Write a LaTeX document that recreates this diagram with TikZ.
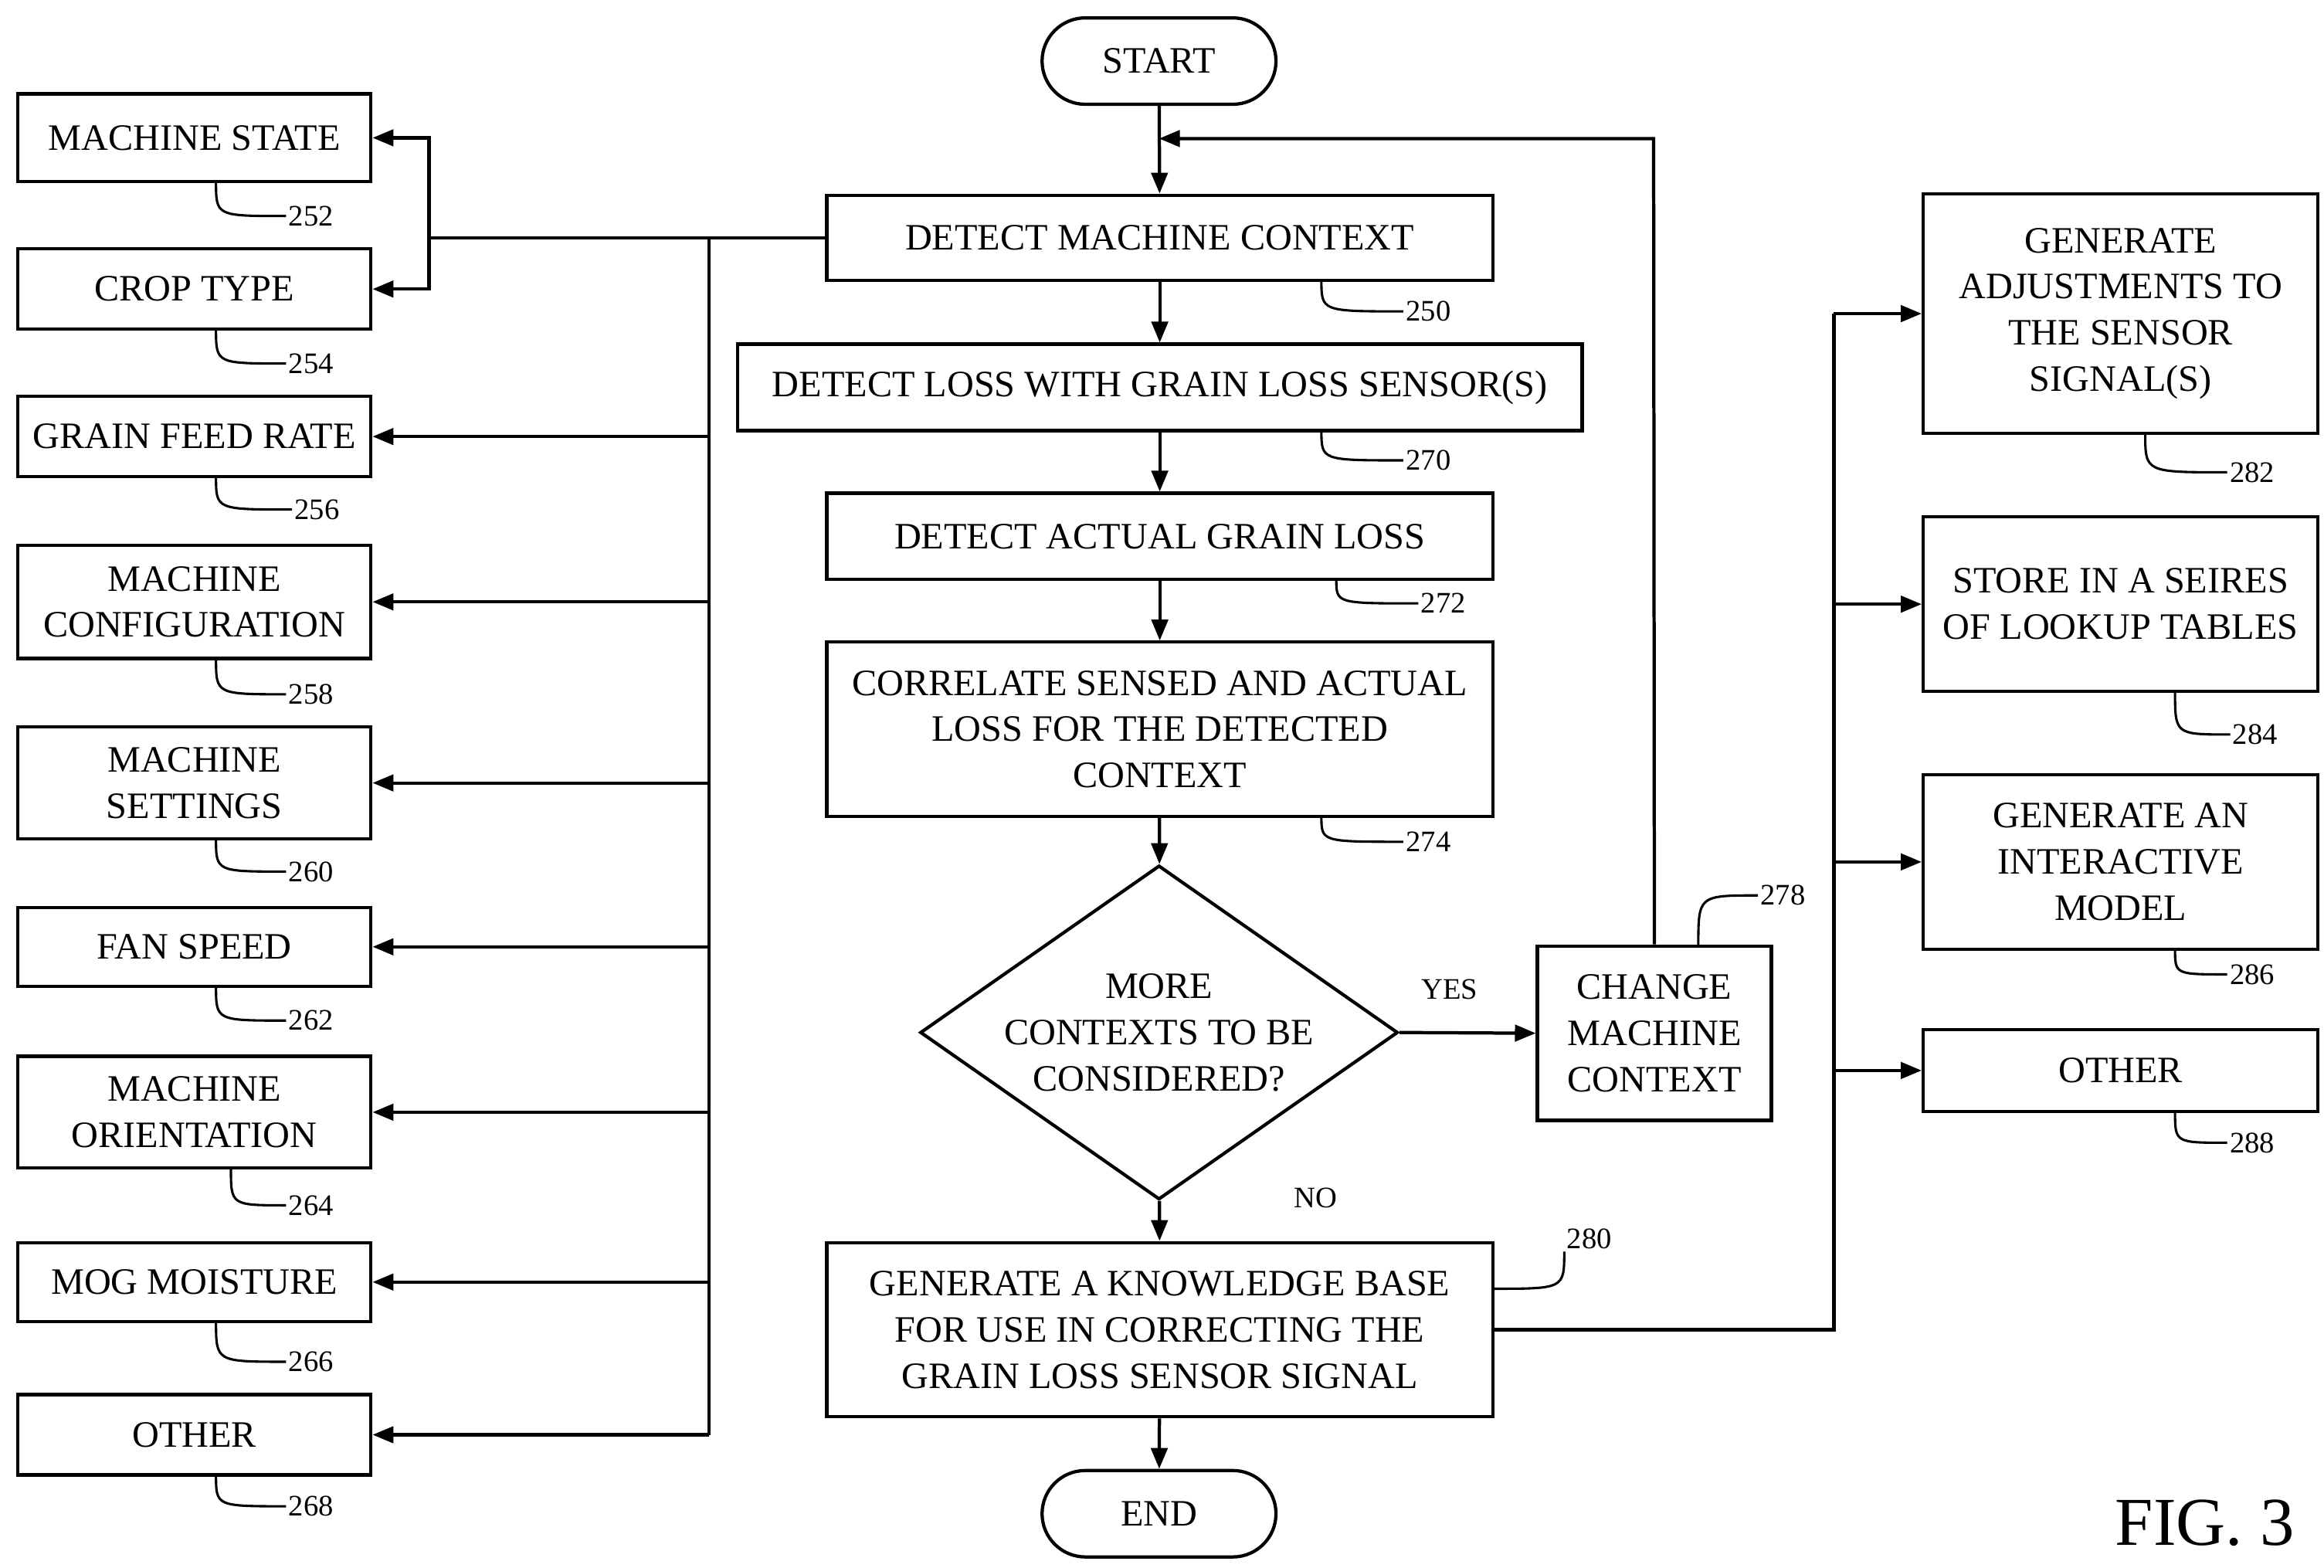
\documentclass[tikz,border=0pt]{standalone}
\usepackage{fontspec}
\setmainfont{Liberation Serif}
\usetikzlibrary{shapes.geometric,arrows.meta}
\begin{document}
\begin{tikzpicture}[x=1pt,y=-1pt,
  lw/.style={line width=2.2pt},
  box/.style={draw,lw,rectangle,inner sep=0pt,align=center,font=\fontsize{25}{31}\selectfont},
  term/.style={draw,lw,rounded rectangle,minimum width=157pt,minimum height=58pt,font=\fontsize{25}{31}\selectfont},
  arr/.style={lw,-{Triangle[length=14pt,width=11pt]}},
  num/.style={font=\fontsize{20}{24}\selectfont,anchor=west,inner sep=1pt},
  txt/.style={font=\fontsize{20}{24}\selectfont}]
\useasboundingbox (0,0) rectangle (1560,1052);
\tikzset{rounded rectangle/.style={rectangle,rounded corners=29pt}}
% left boxes
\newcommand{\lbox}[4]{\node[box,minimum width=237pt,minimum height=#3pt] (#1) at (130.5,#2) {#4};}
\lbox{l252}{92.5}{59}{MACHINE STATE}
\lbox{l254}{194}{54}{CROP TYPE}
\lbox{l256}{293}{54}{GRAIN FEED RATE}
\lbox{l258}{404}{76}{MACHINE\\CONFIGURATION}
\lbox{l260}{525.5}{75}{MACHINE\\SETTINGS}
\lbox{l262}{635.5}{53}{FAN SPEED}
\lbox{l264}{746.5}{75}{MACHINE\\ORIENTATION}
\lbox{l266}{860.5}{53}{MOG MOISTURE}
\lbox{l268}{963}{54}{OTHER}
% center
\node[term] (start) at (778,41) {START};
\node[box,minimum width=447pt,minimum height=57pt] (c250) at (778.5,159.5) {DETECT MACHINE CONTEXT};
\node[box,minimum width=567pt,minimum height=58pt] (c270) at (778.5,260) {DETECT LOSS WITH GRAIN LOSS SENSOR(S)};
\node[box,minimum width=447pt,minimum height=58pt] (c272) at (778.5,360) {DETECT ACTUAL GRAIN LOSS};
\node[box,minimum width=447pt,minimum height=117pt] (c274) at (778.5,489.5) {CORRELATE SENSED AND ACTUAL\\LOSS FOR THE DETECTED\\CONTEXT};
\node[draw,lw,diamond,aspect=1.43,minimum width=294pt,minimum height=206pt,inner sep=0pt,align=center,font=\fontsize{25}{31}\selectfont] (d) at (778,693) {MORE\\CONTEXTS TO BE\\CONSIDERED?};
\node[box,minimum width=157pt,minimum height=117pt] (c278) at (1110.5,693.5) {CHANGE\\MACHINE\\CONTEXT};
\node[box,minimum width=447pt,minimum height=117pt] (c280) at (778.5,892.5) {GENERATE A KNOWLEDGE BASE\\FOR USE IN CORRECTING THE\\GRAIN LOSS SENSOR SIGNAL};
\node[term] (end) at (778,1016) {END};
% right
\newcommand{\rbox}[4]{\node[box,minimum width=265pt,minimum height=#3pt] (#1) at (1423.5,#2) {#4};}
\rbox{r282}{210.5}{161}{GENERATE\\ADJUSTMENTS TO\\THE SENSOR\\SIGNAL(S)}
\rbox{r284}{405.5}{117}{STORE IN A SEIRES\\OF LOOKUP TABLES}
\rbox{r286}{578.5}{117}{GENERATE AN\\INTERACTIVE\\MODEL}
\rbox{r288}{718.5}{55}{OTHER}
% center flow
\draw[arr] (start) -- (c250);
\draw[arr] (c250) -- (c270);
\draw[arr] (c270) -- (c272);
\draw[arr] (c272) -- (c274);
\draw[arr] (c274) -- (d);
\draw[arr] (d) -- (c280);
\draw[arr] (c280) -- (end);
\draw[arr] (d.east) -- (c278.west);
\coordinate (loopA) at (1110,93);
\coordinate (loopB) at (778,93);
\draw[arr] (c278.north) -- (loopA) -- (loopB);
\node[txt] (yes) at (973,664) {YES};
\node[txt] (no) at (883,804) {NO};
% left bus
\coordinate (b160) at (476,159.5);
\coordinate (s) at (288,159.5);
\draw[lw] (c250.west) -- (s);
\draw[lw] (b160) -- (476,963);
\draw[arr] (288,159.5) |- (l252.east);
\draw[arr] (288,159.5) |- (l254.east);
\foreach \n in {l256,l258,l260,l262,l264,l266,l268}{
  \draw[arr] (476,0 |- \n.east) -- (\n.east);}
% right bus
\draw[lw] (c280.east) -- (1231,892.5) -- (1231,210.5);
\foreach \n in {r282,r284,r286,r288}{
  \draw[arr] (1231,0 |- \n.west) -- (\n.west);}
% leaders
\newcommand{\lead}[5]{\draw[line width=1.6pt] (#1,#2) .. controls (#1,#4) .. (#3,#4) node[num] {#5};}
\lead{145}{122}{192}{145}{252}
\lead{145}{221}{192}{244}{254}
\lead{145}{320}{196}{342}{256}
\lead{145}{442}{192}{466}{258}
\lead{145}{563}{192}{585}{260}
\lead{145}{662}{192}{685}{262}
\lead{155}{784}{192}{809}{264}
\lead{145}{887}{192}{914}{266}
\lead{145}{990}{192}{1011}{268}
\lead{887}{188}{942}{209}{250}
\lead{887}{289}{942}{309}{270}
\lead{897}{389}{952}{405}{272}
\lead{887}{548}{942}{565}{274}
\lead{1440}{291}{1495}{317}{282}
\lead{1460}{464}{1497}{493}{284}
\lead{1460}{637}{1495}{654}{286}
\lead{1460}{746}{1495}{767}{288}
\draw[line width=1.6pt] (1140,635) .. controls (1140,601) .. (1180,601) node[num] {278};
\draw[line width=1.6pt] (1002,865) .. controls (1050,865) .. (1050,840) node[num,anchor=south west] {280};
\node[font=\fontsize{46}{50}\selectfont] (fig) at (1480,1022) {FIG. 3};
\end{tikzpicture}
\end{document}
